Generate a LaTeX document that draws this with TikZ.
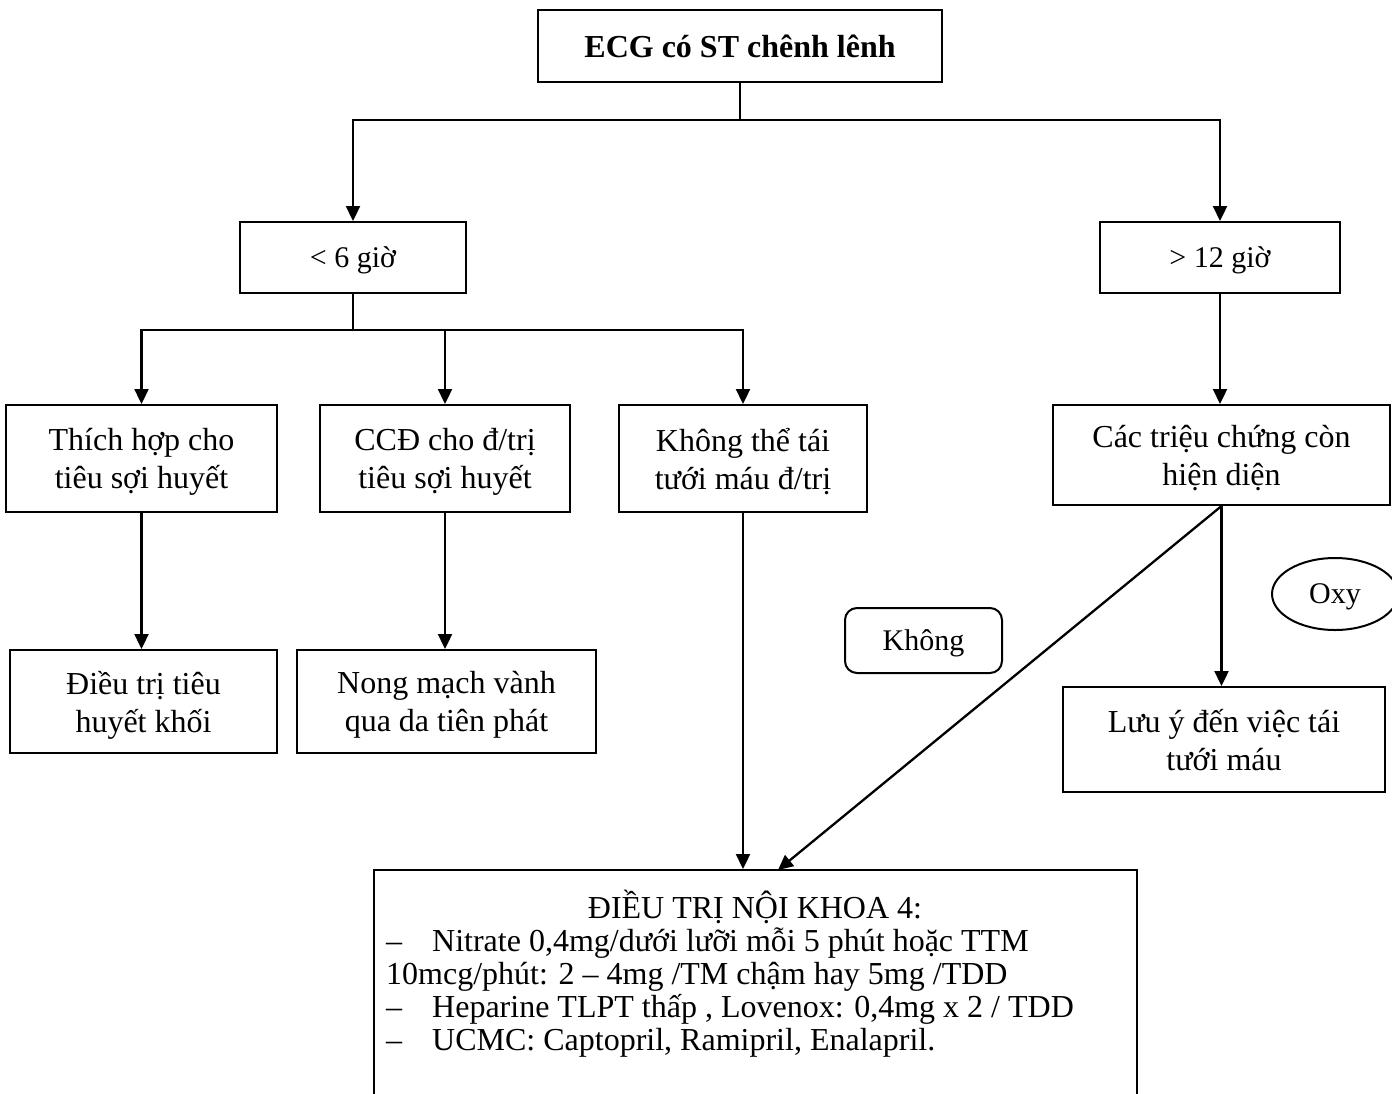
\documentclass[tikz,border=0pt]{standalone}
\usepackage{fontspec}
\setmainfont{Liberation Serif}
\usetikzlibrary{arrows.meta,shapes.geometric}
\begin{document}
\begin{tikzpicture}[x=1pt,y=-1pt,
  box/.style={draw,line width=2pt,align=center,inner sep=0pt,text depth=0pt,font=\fontsize{32}{38}\selectfont},
  sbox/.style={box,font=\fontsize{30}{36}\selectfont},
  arr/.style={line width=2.3pt,-{Triangle[length=15pt,width=14pt]}},
  ln/.style={line width=2.3pt},
  txt/.style={inner sep=0pt,font=\fontsize{32}{33}\selectfont}]
\useasboundingbox (0,0) rectangle (1392,1093);
\clip (0,0) rectangle (1392,1093);
% boxes
\node[box,minimum width=404pt,minimum height=72pt,font=\fontsize{32}{38}\selectfont\bfseries] (top) at (740,46) {ECG có ST chênh lênh};
\node[sbox,minimum width=226pt,minimum height=71pt] (lt6) at (353,257.5) {< 6 giờ};
\node[sbox,minimum width=240pt,minimum height=71pt] (gt12) at (1220,257.5) {> 12 giờ};
\node[box,minimum width=271pt,minimum height=107pt] (b1) at (141.5,458.5) {Thích hợp cho\\tiêu sợi huyết};
\node[box,minimum width=250pt,minimum height=107pt] (b2) at (445,458.5) {CCĐ cho đ/trị\\tiêu sợi huyết};
\node[box,minimum width=248pt,minimum height=107pt] (b3) at (743,458.5) {Không thể tái\\tưới máu đ/trị};
\node[box,minimum width=337pt,minimum height=100pt] (sym) at (1221.5,455) {Các triệu chứng còn\\hiện diện};
\node[box,minimum width=267pt,minimum height=103pt] (c1) at (143.5,701.5) {Điều trị tiêu\\huyết khối};
\node[box,minimum width=299pt,minimum height=103pt] (c2) at (446.5,701.5) {Nong mạch vành\\qua da tiên phát};
\node[box,minimum width=322pt,minimum height=105pt] (luu) at (1224,739.5) {Lưu ý đến việc tái\\tưới máu};
\node[sbox,rounded corners=12pt,minimum width=157pt,minimum height=65pt] (khong) at (923.5,640.5) {Không};
\node[sbox,ellipse,minimum width=126pt,minimum height=72pt] (oxy) at (1335,594) {Oxy};
\node[box,minimum width=763pt,minimum height=240pt] (bot) at (755.5,990) {};
\node[txt,anchor=base] (bottitle) at (755,918.5) {ĐIỀU TRỊ NỘI KHOA 4:};
\node[txt,anchor=base west] (botlist) at (386,951.5) {\vtop{\baselineskip=33pt\lineskiplimit=-100pt
  \hbox{\makebox[46pt][l]{–}Nitrate 0,4mg/dưới lưỡi mỗi 5 phút hoặc TTM}
  \hbox{10mcg/phút: 2 – 4mg /TM chậm hay 5mg /TDD}
  \hbox{\makebox[46pt][l]{–}Heparine TLPT thấp , Lovenox: 0,4mg x 2 / TDD}
  \hbox{\makebox[46pt][l]{–}UCMC: Captopril, Ramipril, Enalapril.}}};
% connectors
\coordinate (j1) at (740,120);
\coordinate (j2) at (353,330);
\coordinate (dg) at (778,870);
\draw[ln] (top.south) -- (j1);
\draw[arr] (j1) -| (lt6.north);
\draw[arr] (j1) -| (gt12.north);
\draw[ln] (lt6.south) -- (j2);
\draw[arr] (j2) -| (b1.north);
\draw[arr] (j2) -| (b2.north);
\draw[arr] (j2) -| (b3.north);
\draw[arr] (b1.south) -- (b1.south |- c1.north);
\draw[arr] (b2.south) -- (b2.south |- c2.north);
\draw[arr] (b3.south) -- (b3.south |- bot.north);
\draw[arr] (gt12.south) -- (gt12.south |- sym.north);
\draw[arr] (sym.south) -- (sym.south |- luu.north);
\draw[arr] (sym.south) -- (dg);
\end{tikzpicture}
\end{document}
